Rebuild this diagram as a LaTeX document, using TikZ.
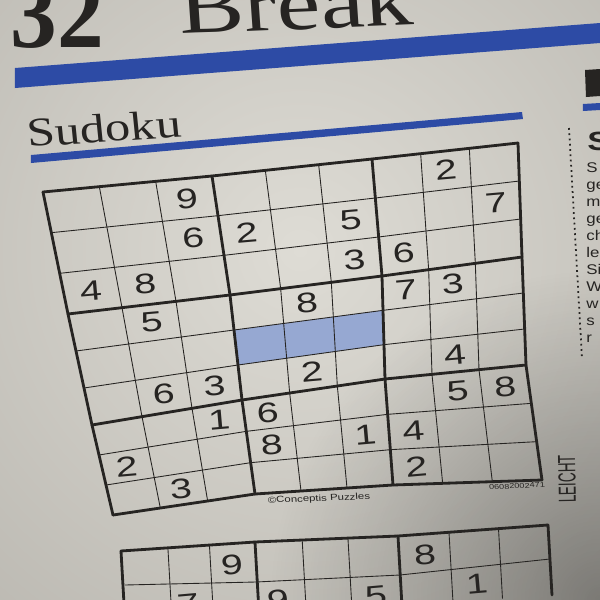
\documentclass[tikz,border=0pt]{standalone}
\usepackage{fontspec}
\setmainfont{Liberation Serif}
\newfontfamily\digitfont{Liberation Sans}
\usetikzlibrary{calc, fadings}
\tikzfading[name=cornerfade, inner color=transparent!0, outer color=transparent!100]
\definecolor{Paper}{RGB}{222,220,213}
\definecolor{PaperDark}{RGB}{158,155,148}
\definecolor{Ink}{RGB}{38,36,34}
\definecolor{RuleBlue}{RGB}{45,75,165}
\definecolor{CellBlue}{RGB}{150,168,210}

\begin{document}
\begin{tikzpicture}[x=0.02cm, y=-0.02cm,
  thickline/.style={Ink, line width=1.6pt, line cap=round, line join=round},
  thinline/.style={Ink, line width=0.5pt},
  cellnum/.style={text=Ink, font=\digitfont\fontsize{16}{16}\selectfont, inner sep=0pt, rotate=5, xscale=1.4}]
\path[use as bounding box] (0,0) rectangle (600,600);
\clip (0,0) rectangle (600,600);
\shade[inner color=Paper, outer color=PaperDark] (300,250) circle (900);
\fill[black, opacity=0.35, path fading=cornerfade] (600,600) circle (330);

% header
\node[anchor=base west, inner sep=0pt, text=Ink, font=\bfseries\fontsize{56}{56}\selectfont, xscale=0.95] at (10,47) (Num) {32};
\node[anchor=base west, inner sep=0pt, text=Ink, font=\fontsize{43}{43}\selectfont, xscale=1.3, rotate=3] at (180,34) (Title) {Break};
\fill[RuleBlue] (15,68) -- (600,23) -- (600,43) -- (15,88) -- cycle;
\node[anchor=base west, inner sep=0pt, text=Ink, font=\fontsize{23}{23}\selectfont, xscale=1.25, rotate=4.6] at (28,147) (Head) {Sudoku};
\fill[RuleBlue] (31,155) -- (522,112) -- (523,119) -- (31,163) -- cycle;

% next column
\fill[Ink] (585,70) -- (600,69) -- (600,96) -- (586,97) -- cycle;
\fill[RuleBlue] (583,104) -- (600,103) -- (600,110) -- (583,111) -- cycle;
\draw[Ink, dotted, line width=1pt] (569,128) -- (582,358);
\node[anchor=base west, inner sep=0pt, text=Ink, font=\digitfont\bfseries\fontsize{15}{15}\selectfont, xscale=1.3] at (587,150) (Sub) {S};
\node[anchor=north west, align=left, inner sep=0pt, text=Ink, font=\digitfont\fontsize{8}{9.7}\selectfont, xscale=1.2] at (586,162) (Col) {S\\ge\\m\\ge\\ch\\le\\Si\\W\\w\\s\\r};

% grid corners of the 3x3 boxes
\coordinate (T00) at (43,192);  \coordinate (T01) at (212,176); \coordinate (T02) at (372,159); \coordinate (T03) at (518,143);
\coordinate (T10) at (68,314);  \coordinate (T11) at (230,295); \coordinate (T12) at (382,276); \coordinate (T13) at (522,257);
\coordinate (T20) at (92,425);  \coordinate (T21) at (242,400); \coordinate (T22) at (385,379); \coordinate (T23) at (526,365);
\coordinate (T30) at (113,515); \coordinate (T31) at (255,494); \coordinate (T32) at (393,485); \coordinate (T33) at (542,480);
\foreach \r in {0,...,9} {
  \foreach \c in {0,...,9} {
    \pgfmathtruncatemacro\br{min(int(\r/3),2)}
    \pgfmathtruncatemacro\bc{min(int(\c/3),2)}
    \pgfmathtruncatemacro\brn{\br+1}
    \pgfmathtruncatemacro\bcn{\bc+1}
    \pgfmathsetmacro\fr{(\r-3*\br)/3}
    \pgfmathsetmacro\fc{(\c-3*\bc)/3}
    \coordinate (G\r\c) at ($($(T\br\bc)!\fc!(T\br\bcn)$)!\fr!($(T\brn\bc)!\fc!(T\brn\bcn)$)$);
  }
}
\fill[CellBlue] (G43) -- (G46) -- (G56) -- (G53) -- cycle;
\foreach \r in {1,2,4,5,7,8}
  \draw[thinline] (G\r0) \foreach \c in {1,...,9} { -- (G\r\c) };
\foreach \c in {1,2,4,5,7,8}
  \draw[thinline] (G0\c) \foreach \r in {1,...,9} { -- (G\r\c) };
\foreach \r in {0,3,6,9}
  \draw[thickline] (G\r0) \foreach \c in {1,...,9} { -- (G\r\c) };
\foreach \c in {0,3,6,9}
  \draw[thickline] (G0\c) \foreach \r in {1,...,9} { -- (G\r\c) };

% givens
\foreach \r/\c/\d [evaluate=\r as \rn using int(\r+1), evaluate=\c as \cn using int(\c+1)] in
  {0/2/9, 0/7/2, 1/2/6, 1/3/2, 1/5/5, 1/8/7, 2/0/4, 2/1/8, 2/5/3, 2/6/6,
   3/1/5, 3/4/8, 3/6/7, 3/7/3, 5/1/6, 5/2/3, 5/4/2, 5/7/4,
   6/2/1, 6/3/6, 6/7/5, 6/8/8, 7/0/2, 7/3/8, 7/5/1, 7/6/4, 8/1/3, 8/6/2}
  \node[cellnum] at ($(G\r\c)!0.5!(G\rn\cn)$) (N\r\c) {\d};

\node[inner sep=0pt, text=Ink, font=\digitfont\fontsize{5}{5}\selectfont, xscale=1.3, rotate=3] at (319,499) (Copy) {©Conceptis Puzzles};
\node[inner sep=0pt, text=Ink, font=\digitfont\fontsize{4}{4}\selectfont, xscale=1.3, rotate=4] at (517,486) (Code) {06082002471};
\node[inner sep=0pt, text=Ink, font=\digitfont\fontsize{14}{14}\selectfont, rotate=91, xscale=0.55] at (567,479) (Level) {LEICHT};

% second puzzle
\coordinate (U0) at (121,551); \coordinate (U3) at (255,542); \coordinate (U6) at (398,536); \coordinate (U9) at (548,525);
\coordinate (V0) at (125,585); \coordinate (V3) at (256,582); \coordinate (V6) at (400,575); \coordinate (V9) at (550,559);
\foreach \c/\a/\b/\t in {1/0/3/0.35, 2/0/3/0.66, 4/3/6/0.33, 5/3/6/0.65, 7/6/9/0.34, 8/6/9/0.67}
  \coordinate (U\c) at ($(U\a)!\t!(U\b)$);
\foreach \c in {1,2,4,5,7,8}
  \draw[thinline] (U\c) -- ++(4,70);
\draw[thinline] (V0) -- (V3) -- (V6) -- (V9);
\foreach \c in {0,3,6,9}
  \draw[thickline] (U\c) -- ++(4,70);
\draw[thickline] (U0) -- (U3) -- (U6) -- (U9);
\node[cellnum] at (232,565) (M1) {9};
\node[cellnum] at (425,555) (M2) {8};
\node[cellnum] at (188,604) (M3) {7};
\node[cellnum] at (278,600) (M4) {9};
\node[cellnum] at (376,596) (M5) {5};
\node[cellnum] at (477,584) (M6) {1};
\end{tikzpicture}
\end{document}
